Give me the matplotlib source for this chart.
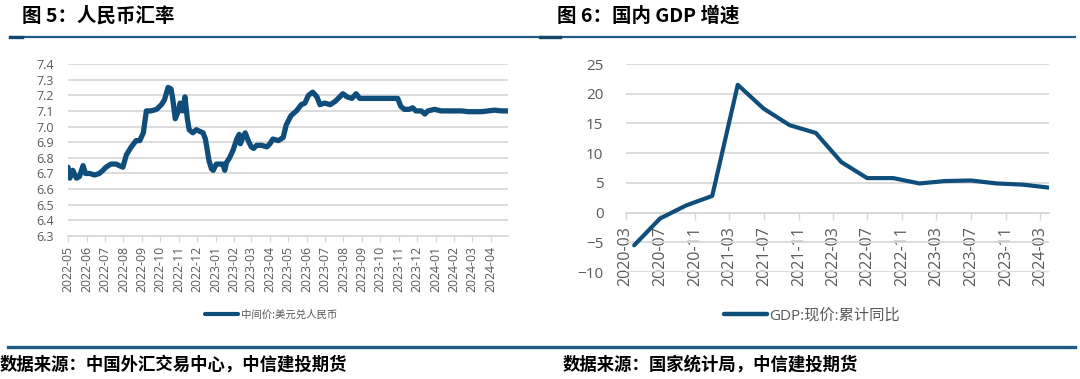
import matplotlib
matplotlib.use('Agg')
import matplotlib.pyplot as plt
import matplotlib.dates as mdates
import pandas as pd
from matplotlib.lines import Line2D

plt.rcParams['font.family'] = ['Open Sans', 'Noto Sans CJK SC', 'DejaVu Sans']

# --- 数据：人民币汇率（中间价，美元兑人民币）---
fx_dates = [
    '2022-05-01', '2022-05-04', '2022-05-09', '2022-05-15', '2022-05-20', '2022-05-26',
    '2022-05-30', '2022-06-06', '2022-06-14', '2022-06-22', '2022-06-28', '2022-07-03',
    '2022-07-11', '2022-07-20', '2022-07-25', '2022-07-31', '2022-08-06', '2022-08-14',
    '2022-08-22', '2022-08-28', '2022-09-03', '2022-09-08', '2022-09-16', '2022-09-25',
    '2022-10-03', '2022-10-08', '2022-10-14', '2022-10-19', '2022-10-22', '2022-10-26',
    '2022-10-31', '2022-11-03', '2022-11-07', '2022-11-11', '2022-11-15', '2022-11-18',
    '2022-11-24', '2022-11-30', '2022-12-05', '2022-12-11', '2022-12-15', '2022-12-21',
    '2022-12-25', '2022-12-28', '2023-01-02', '2023-01-08', '2023-01-13', '2023-01-16',
    '2023-01-19', '2023-01-24', '2023-01-30', '2023-02-05', '2023-02-09', '2023-02-11',
    '2023-02-15', '2023-02-19', '2023-02-24', '2023-03-01', '2023-03-05', '2023-03-10',
    '2023-03-18', '2023-03-27', '2023-04-01', '2023-04-06', '2023-04-15', '2023-04-23',
    '2023-04-28', '2023-05-06', '2023-05-15', '2023-05-23', '2023-05-29', '2023-06-04',
    '2023-06-11', '2023-06-18', '2023-06-23', '2023-07-01', '2023-07-10', '2023-07-18',
    '2023-07-26', '2023-07-31', '2023-08-07', '2023-08-15', '2023-08-22', '2023-08-28',
    '2023-09-10', '2023-09-26', '2023-10-13', '2023-10-30', '2023-11-04', '2023-11-10',
    '2023-11-18', '2023-11-24', '2023-11-29', '2023-12-08', '2023-12-14', '2023-12-19',
    '2023-12-30', '2024-01-10', '2024-01-21', '2024-02-02', '2024-02-13', '2024-02-24',
    '2024-03-17', '2024-03-28', '2024-04-08', '2024-04-19', '2024-04-29',
]
fx_values = [
    6.74, 6.67, 6.72, 6.67, 6.68, 6.75,
    6.70, 6.70, 6.69, 6.70, 6.72, 6.74,
    6.76, 6.76, 6.75, 6.74, 6.82, 6.87,
    6.91, 6.91, 6.96, 7.10, 7.10, 7.11,
    7.14, 7.17, 7.25, 7.24, 7.17, 7.05,
    7.10, 7.15, 7.10, 7.19, 7.05, 6.98,
    6.96, 6.98, 6.97, 6.96, 6.92, 6.78,
    6.73, 6.72, 6.76, 6.76, 6.76, 6.72,
    6.77, 6.80, 6.85, 6.92, 6.95, 6.89,
    6.93, 6.96, 6.91, 6.87, 6.86, 6.88,
    6.88, 6.87, 6.89, 6.92, 6.91, 6.93,
    7.01, 7.07, 7.10, 7.14, 7.15, 7.20,
    7.22, 7.19, 7.14, 7.15, 7.14, 7.16,
    7.19, 7.21, 7.19, 7.18, 7.21, 7.18,
    7.18, 7.18, 7.18, 7.18, 7.13, 7.11,
    7.11, 7.12, 7.10, 7.10, 7.08, 7.10,
    7.11, 7.10, 7.10, 7.10, 7.10, 7.095,
    7.095, 7.10, 7.105, 7.10, 7.10,
]

# --- 数据：GDP 现价累计同比 ---
gdp_dates = [
    '2020-03-31', '2020-06-30', '2020-09-30', '2020-12-31',
    '2021-03-31', '2021-06-30', '2021-09-30', '2021-12-31',
    '2022-03-31', '2022-06-30', '2022-09-30', '2022-12-31',
    '2023-03-31', '2023-06-30', '2023-09-30', '2023-12-31',
    '2024-03-31',
]
gdp_values = [
    -5.5, -1.0, 1.2, 2.8,
    21.5, 17.5, 14.7, 13.4,
    8.5, 5.8, 5.8, 4.9,
    5.3, 5.4, 4.9, 4.7,
    4.2,
]

LINE_COLOR = '#0f4e7b'
GRID_COLOR = '#d9d9d9'
TEXT_COLOR = '#595959'
RULE_COLOR = '#1f5b85'
CJK = ['Noto Sans CJK SC', 'DejaVu Sans']

fig = plt.figure(figsize=(10.8, 3.79), dpi=100)

# --- 标题与分隔线 ---
fig.text(22 / 1080, 1 - 16 / 379, '图 5：人民币汇率', fontsize=14, fontweight='bold',
         family=CJK, va='center', ha='left')
fig.text(557 / 1080, 1 - 16 / 379, '图 6：国内 GDP 增速', fontsize=14, fontweight='bold',
         family=CJK, va='center', ha='left')

fig.add_artist(Line2D([10 / 1080, 1075 / 1080], [1 - 37 / 379] * 2, color=RULE_COLOR, lw=1.6,
                      transform=fig.transFigure))
fig.add_artist(Line2D([10 / 1080, 22 / 1080], [1 - 37 / 379] * 2, color='#16476b', lw=2.4,
                      transform=fig.transFigure))
fig.add_artist(Line2D([540 / 1080, 560 / 1080], [1 - 37 / 379] * 2, color='#16476b', lw=2.4,
                      transform=fig.transFigure))
fig.add_artist(Line2D([8 / 1080, 1075 / 1080], [1 - 347 / 379] * 2, color=RULE_COLOR, lw=2.4,
                      transform=fig.transFigure))

fig.text(0 / 1080, 1 - 365 / 379, '数据来源：中国外汇交易中心，中信建投期货', fontsize=12.5,
         fontweight='bold', family=CJK, va='center', ha='left')
fig.text(563 / 1080, 1 - 365 / 379, '数据来源：国家统计局，中信建投期货', fontsize=12.5,
         fontweight='bold', family=CJK, va='center', ha='left')

# --- 图 5：人民币汇率 ---
ax1 = fig.add_axes([68 / 1080, 1 - 236 / 379, (508 - 68) / 1080, (236 - 64) / 379])
fx = pd.DataFrame({'date': pd.to_datetime(fx_dates), 'value': fx_values})
ax1.plot(fx['date'], fx['value'], color=LINE_COLOR, lw=3.8, solid_joinstyle='round',
         solid_capstyle='round', label='中间价:美元兑人民币', zorder=3)
ax1.set_ylim(6.3, 7.4)
ax1.set_yticks([6.3 + 0.1 * i for i in range(12)])
ax1.yaxis.set_major_formatter(plt.FormatStrFormatter('%.1f'))
ax1.set_xlim(pd.Timestamp('2022-05-01'), pd.Timestamp('2024-04-30'))
ax1.xaxis.set_major_locator(mdates.MonthLocator())
ax1.xaxis.set_major_formatter(mdates.DateFormatter('%Y-%m'))
ax1.grid(axis='y', color=GRID_COLOR, lw=1.3)
ax1.set_axisbelow(True)
for s in ['top', 'right', 'left']:
    ax1.spines[s].set_visible(False)
ax1.spines['bottom'].set_color(GRID_COLOR)
ax1.spines['bottom'].set_linewidth(1.3)
ax1.tick_params(axis='y', length=0, pad=10, labelsize=9, labelcolor=TEXT_COLOR)
ax1.tick_params(axis='x', length=4, width=1, color=GRID_COLOR, pad=3, labelsize=8.8,
                labelcolor=TEXT_COLOR, labelrotation=90)
ax1.legend(loc='center', bbox_to_anchor=(271 / 1080, 1 - 315 / 379),
           bbox_transform=fig.transFigure, frameon=False, handlelength=3.2,
           handletextpad=0.3, labelcolor=TEXT_COLOR,
           prop={'family': CJK, 'size': 7.5})
for h in ax1.get_legend().get_lines():
    h.set_linewidth(3.0)

# --- 图 6：国内 GDP 增速 ---
ax2 = fig.add_axes([625.7 / 1080, 1 - 272 / 379, (1049 - 625.7) / 1080, (272 - 64) / 379])
gdp = pd.DataFrame({'date': pd.to_datetime(gdp_dates), 'value': gdp_values})
ax2.plot(gdp['date'], gdp['value'], color=LINE_COLOR, lw=3.0, solid_joinstyle='round',
         solid_capstyle='round', label='GDP:现价:累计同比', zorder=3)
ax2.set_ylim(-10, 25)
ax2.set_yticks(range(-10, 30, 5))
ax2.set_xlim(pd.Timestamp('2020-03-01'), pd.Timestamp('2024-04-01'))
ax2.xaxis.set_major_locator(mdates.MonthLocator(bymonth=[3, 7, 11]))
ax2.xaxis.set_major_formatter(mdates.DateFormatter('%Y-%m'))
ax2.grid(axis='y', color=GRID_COLOR, lw=1.3)
ax2.set_axisbelow(True)
for s in ['top', 'right', 'left']:
    ax2.spines[s].set_visible(False)
ax2.spines['bottom'].set_position(('data', 0))
ax2.spines['bottom'].set_color(GRID_COLOR)
ax2.spines['bottom'].set_linewidth(1.3)
ax2.tick_params(axis='y', length=0, pad=16, labelsize=11, labelcolor=TEXT_COLOR)
ax2.tick_params(axis='x', length=5, width=1, color=GRID_COLOR, pad=5, labelsize=11.5,
                labelcolor=TEXT_COLOR, labelrotation=90)
ax2.legend(loc='center', bbox_to_anchor=(812 / 1080, 1 - 316 / 379),
           bbox_transform=fig.transFigure, frameon=False, handlelength=2.8,
           handletextpad=0.2, labelcolor=TEXT_COLOR,
           prop={'family': ['Open Sans', 'Noto Sans CJK SC', 'DejaVu Sans'], 'size': 11})
for h in ax2.get_legend().get_lines():
    h.set_linewidth(3.2)

fig.savefig('out.png', dpi=100)
